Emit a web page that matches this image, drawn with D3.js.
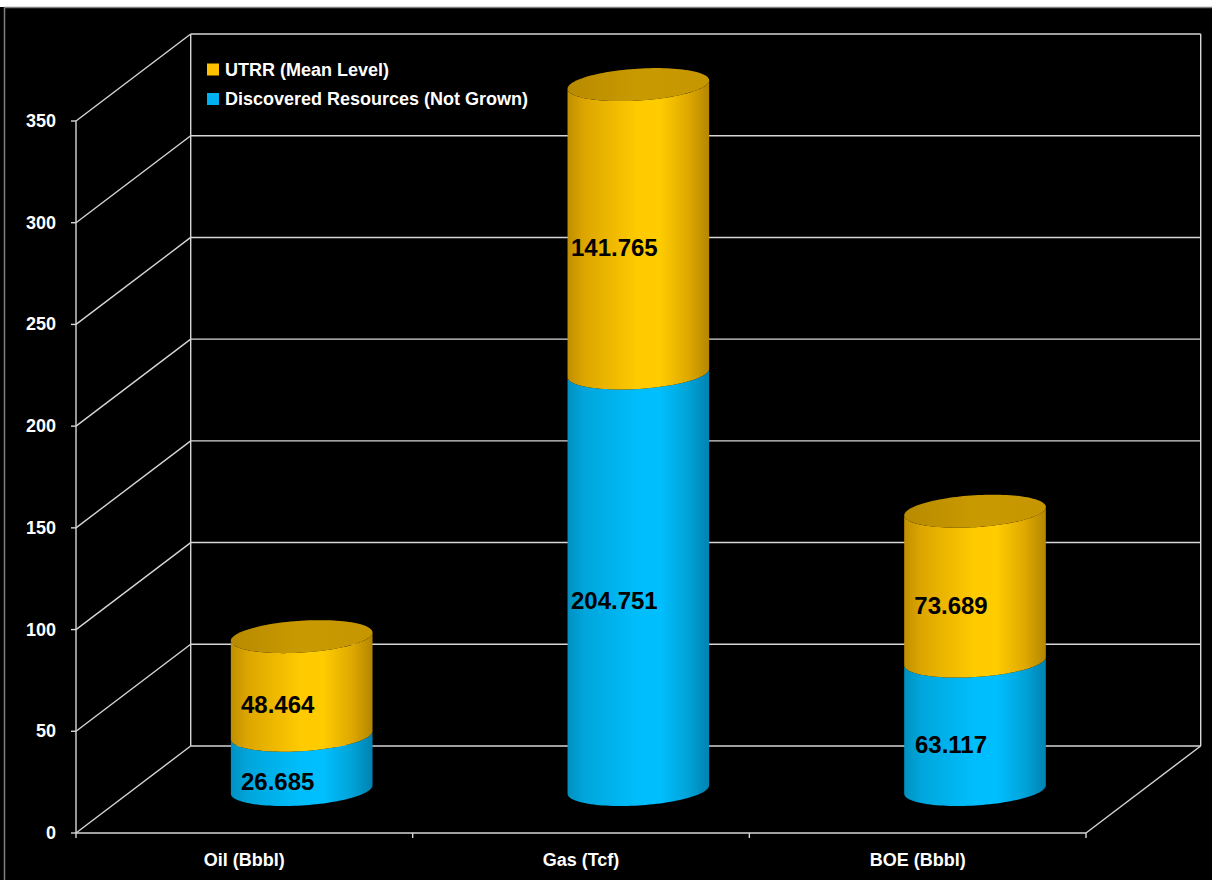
<!DOCTYPE html>
<html>
<head>
<meta charset="utf-8">
<script src="https://cdn.jsdelivr.net/npm/d3@7"></script>
<style>
  html, body { margin: 0; padding: 0; background: #000; }
  svg { display: block; }
</style>
</head>
<body>
<svg id="chart" width="1212" height="880"></svg>
<script>
// ---- data ----
const categories = ["Oil (Bbbl)", "Gas (Tcf)", "BOE (Bbbl)"];
const discovered = [26.685, 204.751, 63.117];   // Discovered Resources (Not Grown)
const utrr = [48.464, 141.765, 73.689];         // UTRR (Mean Level)
const yTicks = [0, 50, 100, 150, 200, 250, 300, 350];
const seriesNames = ["UTRR (Mean Level)", "Discovered Resources (Not Grown)"];

// ---- layout ----
const W = 1212, H = 880;
const svg = d3.select("#chart");
const FONT = "'Liberation Sans', Arial, sans-serif";

const front = { left: 76, right: 1086, bottom: 833, top: 121 };
const DX = 114.7, DY = -87;   // depth offset of back wall

const x = d3.scaleBand().domain(categories).range([front.left, front.right]);
const y = d3.scaleLinear().domain([0, 350]).range([front.bottom, front.top]);

// background + frame
svg.append("rect").attr("x", 0).attr("y", 0).attr("width", W).attr("height", H).attr("fill", "#000");
svg.append("rect").attr("x", 0).attr("y", 0).attr("width", W).attr("height", 7).attr("fill", "#fff");
svg.append("line").attr("x1", 4.5).attr("x2", W).attr("y1", 7.5).attr("y2", 7.5).attr("stroke", "#7f7f7f").attr("stroke-width", 1.5);
svg.append("line").attr("x1", 4.5).attr("x2", 4.5).attr("y1", 7.5).attr("y2", H).attr("stroke", "#7f7f7f").attr("stroke-width", 1.5);

const grid = svg.append("g").attr("stroke", "#d6d6d6").attr("stroke-width", 1.4).attr("fill", "none");
const bx0 = front.left + DX, bx1 = front.right + DX;
// back wall horizontal gridlines & left wall diagonals
yTicks.forEach(v => {
  grid.append("line").attr("x1", bx0).attr("x2", bx1).attr("y1", y(v) + DY).attr("y2", y(v) + DY);
  grid.append("line").attr("x1", front.left).attr("y1", y(v)).attr("x2", bx0).attr("y2", y(v) + DY);
});
// verticals
grid.append("line").attr("x1", bx0).attr("x2", bx0).attr("y1", y(350) + DY).attr("y2", y(0) + DY);
grid.append("line").attr("x1", bx1).attr("x2", bx1).attr("y1", y(350) + DY).attr("y2", y(0) + DY);
grid.append("line").attr("x1", front.left).attr("x2", front.left).attr("y1", y(350)).attr("y2", y(0));
// floor
grid.append("line").attr("x1", front.left).attr("x2", front.right).attr("y1", y(0)).attr("y2", y(0));
grid.append("line").attr("x1", front.right).attr("y1", y(0)).attr("x2", bx1).attr("y2", y(0) + DY);

// y-axis ticks and labels
const yAxis = svg.append("g");
yTicks.forEach(v => {
  yAxis.append("line").attr("x1", front.left - 5).attr("x2", front.left).attr("y1", y(v)).attr("y2", y(v))
    .attr("stroke", "#d6d6d6").attr("stroke-width", 1.4);
  yAxis.append("text").attr("x", 56).attr("y", y(v)).attr("text-anchor", "end").attr("dominant-baseline", "central")
    .attr("fill", "#fff").attr("font-family", FONT).attr("font-weight", "bold").attr("font-size", 18).text(v);
});
// x-axis ticks & labels
const xEdges = categories.map(c => x(c)).concat([front.right]);
xEdges.forEach(px => {
  svg.append("line").attr("x1", px).attr("x2", px).attr("y1", y(0)).attr("y2", y(0) + 5)
    .attr("stroke", "#d6d6d6").attr("stroke-width", 1.4);
});
categories.forEach(c => {
  svg.append("text").attr("x", x(c) + x.bandwidth() / 2).attr("y", 866).attr("text-anchor", "middle")
    .attr("fill", "#fff").attr("font-family", FONT).attr("font-weight", "bold").attr("font-size", 18).text(c);
});

// ---- gradients ----
const defs = svg.append("defs");
function hGrad(id, stops) {
  const g = defs.append("linearGradient").attr("id", id).attr("x1", 0).attr("x2", 1).attr("y1", 0).attr("y2", 0);
  stops.forEach(s => g.append("stop").attr("offset", s[0]).attr("stop-color", s[1]));
}
hGrad("orangeSide", [[0, "#C08F00"], [0.12, "#DDA600"], [0.5, "#FFCB00"], [0.65, "#FFCC00"], [0.85, "#E0A900"], [1, "#B38600"]]);
hGrad("orangeTop", [[0, "#B88A00"], [0.5, "#C99A00"], [1, "#C59600"]]);
hGrad("blueSide", [[0, "#0090C0"], [0.12, "#00A6DC"], [0.5, "#00BEFC"], [0.65, "#00BFFF"], [0.85, "#00A3D8"], [1, "#0082B2"]]);
hGrad("blueTop", [[0, "#0088B8"], [0.5, "#009CD0"], [1, "#0094C6"]]);

// ---- cylinders ----
const A = 68.5, B = 18, C = 16.5;          // ellipse parameters
const te = Math.atan2(B, A);
function ept(cx, cy, t) { return [cx + A * Math.cos(t) + B * Math.sin(t), cy - C * Math.sin(t)]; }
function arc(cx, cy, t0, t1, n = 60) {
  const pts = [];
  for (let i = 0; i <= n; i++) pts.push(ept(cx, cy, t0 + (t1 - t0) * i / n));
  return pts;
}
function bodyPath(cx, cyB, cyT) {
  const bottom = arc(cx, cyB, te + Math.PI, te + 2 * Math.PI);
  const top = arc(cx, cyT, te + 2 * Math.PI, te + Math.PI);
  return d3.line()(bottom.concat(top)) + "Z";
}
function ellipsePath(cx, cy) {
  return d3.line()(arc(cx, cy, 0, 2 * Math.PI, 120)) + "Z";
}

const cyl = svg.append("g");
const labels = svg.append("g");
categories.forEach((c, i) => {
  const cx = x(c) + x.bandwidth() / 2 + DX / 2;
  const yy = v => y(v) + DY / 2;
  const segs = [
    { v0: 0, v1: discovered[i], side: "url(#blueSide)", top: "url(#blueTop)", val: discovered[i] },
    { v0: discovered[i], v1: discovered[i] + utrr[i], side: "url(#orangeSide)", top: "url(#orangeTop)", val: utrr[i] }
  ];
  segs.forEach((s, k) => {
    cyl.append("path").attr("d", bodyPath(cx, yy(s.v0), yy(s.v1))).attr("fill", s.side);
    if (k === segs.length - 1) {
      cyl.append("path").attr("d", ellipsePath(cx, yy(s.v1))).attr("fill", s.top);
    }
    labels.append("text").attr("x", cx - 24).attr("y", yy((s.v0 + s.v1) / 2) + 19)
      .attr("text-anchor", "middle").attr("dominant-baseline", "central")
      .attr("fill", "#000").attr("font-family", FONT).attr("font-weight", "bold").attr("font-size", 24)
      .text(d3.format(".3f")(s.val));
  });
});

// ---- legend ----
const legendColors = ["#FFC000", "#00B0F0"];
const leg = svg.append("g");
seriesNames.forEach((n, i) => {
  const ly = 69.5 + i * 29.5;
  leg.append("rect").attr("x", 207).attr("y", ly - 6).attr("width", 12).attr("height", 12).attr("fill", legendColors[i]);
  leg.append("text").attr("x", 225).attr("y", ly).attr("dominant-baseline", "central")
    .attr("fill", "#fff").attr("font-family", FONT).attr("font-weight", "bold").attr("font-size", 18).text(n);
});
</script>
</body>
</html>
